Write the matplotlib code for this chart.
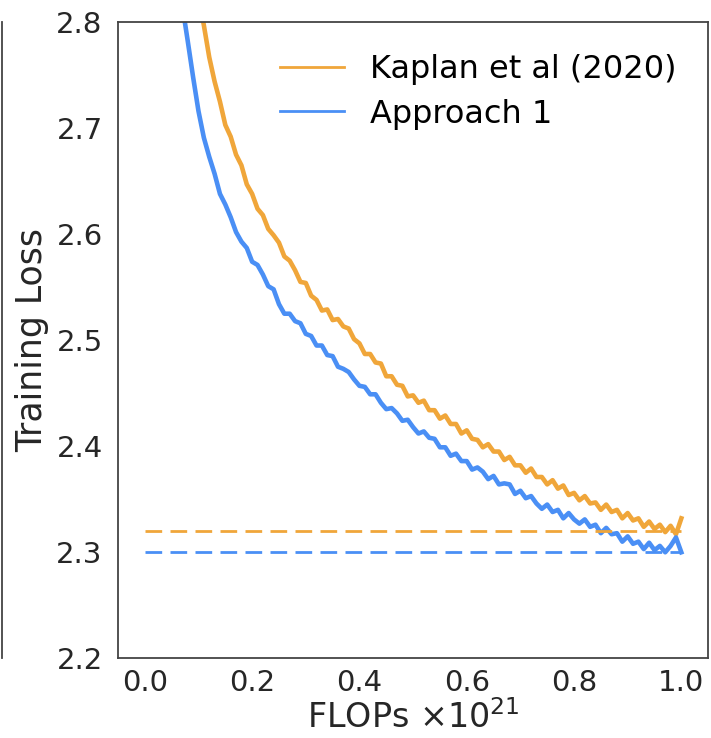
import matplotlib
matplotlib.use("Agg")
import matplotlib.pyplot as plt
from matplotlib.lines import Line2D

# FLOPs (x 1e21) sample positions
flops = [0.07, 0.08, 0.09, 0.10, 0.11, 0.12, 0.13, 0.14, 0.15, 0.16,
         0.17, 0.18, 0.19, 0.20, 0.21, 0.22, 0.23, 0.24, 0.25, 0.26,
         0.27, 0.28, 0.29, 0.30, 0.31, 0.32, 0.33, 0.34, 0.35, 0.36,
         0.37, 0.38, 0.39, 0.40, 0.41, 0.42, 0.43, 0.44, 0.45, 0.46,
         0.47, 0.48, 0.49, 0.50, 0.51, 0.52, 0.53, 0.54, 0.55, 0.56,
         0.57, 0.58, 0.59, 0.60, 0.61, 0.62, 0.63, 0.64, 0.65, 0.66,
         0.67, 0.68, 0.69, 0.70, 0.71, 0.72, 0.73, 0.74, 0.75, 0.76,
         0.77, 0.78, 0.79, 0.80, 0.81, 0.82, 0.83, 0.84, 0.85, 0.86,
         0.87, 0.88, 0.89, 0.90, 0.91, 0.92, 0.93, 0.94, 0.95, 0.96,
         0.97, 0.98, 0.99, 1.00]

loss_approach1 = [2.815, 2.782, 2.748, 2.716, 2.691, 2.673, 2.657, 2.638, 2.628, 2.616,
                  2.602, 2.593, 2.587, 2.574, 2.571, 2.562, 2.551, 2.548, 2.534, 2.525,
                  2.525, 2.518, 2.516, 2.506, 2.504, 2.495, 2.495, 2.486, 2.485, 2.475,
                  2.473, 2.470, 2.463, 2.457, 2.456, 2.449, 2.449, 2.441, 2.435, 2.436,
                  2.431, 2.424, 2.425, 2.418, 2.412, 2.414, 2.408, 2.407, 2.399, 2.399,
                  2.391, 2.393, 2.386, 2.386, 2.378, 2.380, 2.376, 2.369, 2.372, 2.364,
                  2.365, 2.364, 2.355, 2.358, 2.351, 2.353, 2.346, 2.341, 2.345, 2.338,
                  2.340, 2.332, 2.337, 2.331, 2.327, 2.331, 2.324, 2.326, 2.318, 2.323,
                  2.317, 2.318, 2.310, 2.315, 2.308, 2.310, 2.303, 2.309, 2.302, 2.306,
                  2.300, 2.306, 2.314, 2.300]

# Kaplan curve starts at the 4th FLOPs sample (0.10)
loss_kaplan = [2.825, 2.797, 2.767, 2.744, 2.725, 2.703, 2.692,
               2.675, 2.665, 2.647, 2.638, 2.624, 2.618, 2.605, 2.599, 2.592, 2.579,
               2.575, 2.566, 2.555, 2.554, 2.542, 2.538, 2.528, 2.529, 2.519, 2.520,
               2.513, 2.511, 2.501, 2.497, 2.487, 2.487, 2.479, 2.478, 2.466, 2.466,
               2.458, 2.457, 2.447, 2.448, 2.441, 2.443, 2.434, 2.434, 2.426, 2.429,
               2.421, 2.421, 2.412, 2.415, 2.407, 2.406, 2.399, 2.402, 2.395, 2.395,
               2.387, 2.390, 2.382, 2.382, 2.375, 2.379, 2.371, 2.371, 2.364, 2.368,
               2.360, 2.363, 2.354, 2.356, 2.349, 2.353, 2.346, 2.347, 2.340, 2.345,
               2.338, 2.340, 2.332, 2.337, 2.330, 2.332, 2.324, 2.329, 2.322, 2.326,
               2.319, 2.325, 2.317, 2.332]

# final loss levels predicted by each approach
final_kaplan = 2.32
final_approach1 = 2.30

orange = "#f0a63a"
blue = "#4a8ff5"

plt.rcParams["font.family"] = "DejaVu Sans"
fig = plt.figure(figsize=(7.11, 7.38), dpi=100)
ax = fig.add_axes([0.166, 0.108, 0.830, 0.862])

ax.plot(flops[3:], loss_kaplan, color=orange, lw=3.3, label="Kaplan et al (2020)")
ax.plot(flops, loss_approach1, color=blue, lw=3.3, label="Approach 1")
ax.plot([0.0, 1.0], [final_kaplan, final_kaplan], color=orange, lw=2, dashes=(6, 3))
ax.plot([0.0, 1.0], [final_approach1, final_approach1], color=blue, lw=2, dashes=(6, 3))

ax.set_xlim(-0.05, 1.05)
ax.set_ylim(2.2, 2.8)
ax.set_xticks([0.0, 0.2, 0.4, 0.6, 0.8, 1.0])
ax.set_yticks([2.2, 2.3, 2.4, 2.5, 2.6, 2.7, 2.8])
ax.tick_params(axis="both", length=0, labelsize=21, colors="#262626")
ax.tick_params(axis="y", pad=11)
ax.tick_params(axis="x", pad=8)
ax.set_xlabel(r"FLOPs $\times 10^{21}$", fontsize=24, color="#262626", labelpad=2)
ax.set_ylabel("Training Loss", fontsize=25, color="#262626", labelpad=5)
for sp in ax.spines.values():
    sp.set_color("#444444")
    sp.set_linewidth(1.3)

leg = ax.legend(loc="upper right", frameon=False, fontsize=23, handlelength=2.0,
                borderaxespad=0.6, labelspacing=0.42)
for h in leg.get_lines():
    h.set_linewidth(2)

# right edge of a neighbouring panel
fig.add_artist(Line2D([0.003, 0.003], [0.108, 0.970], color="#444444", lw=1.3))

fig.savefig("out.png", dpi=100)
